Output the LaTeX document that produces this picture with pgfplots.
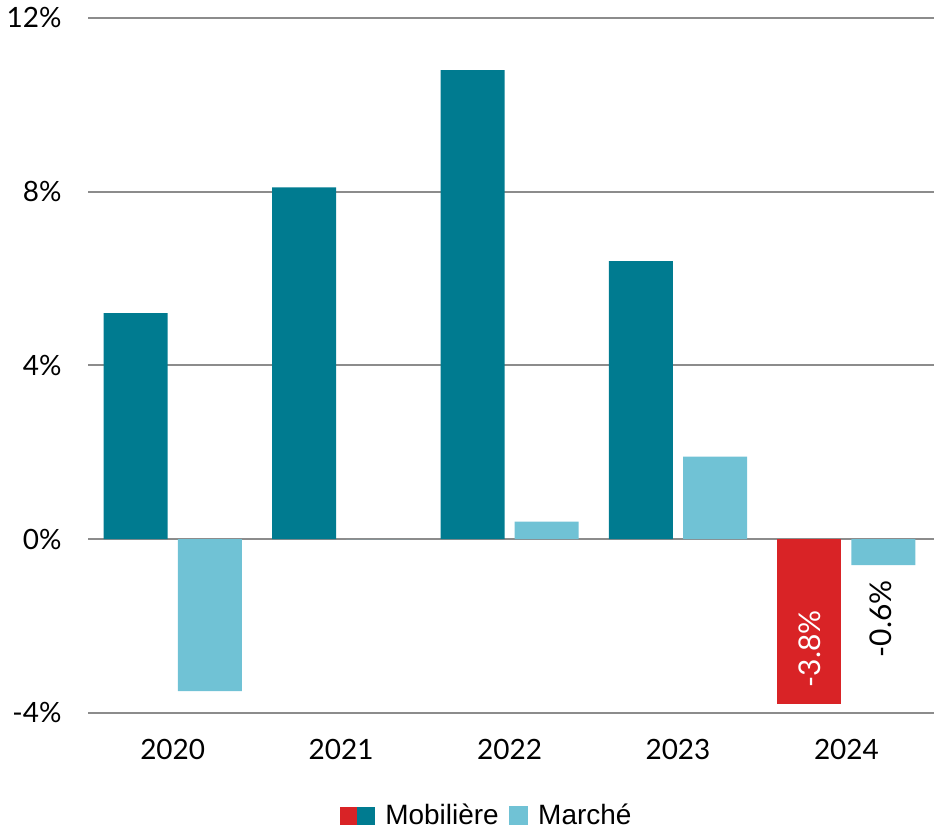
\documentclass[border=0pt]{standalone}
\usepackage{pgfplots}
\pgfplotsset{compat=1.18}
\usepackage{fontspec}
\setmainfont{Lato}
\newfontfamily\legfont{Liberation Sans}
\definecolor{mob}{HTML}{007B90}
\definecolor{mar}{HTML}{70C2D5}
\definecolor{neg}{HTML}{D92326}
\definecolor{gridc}{HTML}{8C8C8C}
\begin{document}
\begin{tikzpicture}
  \begin{axis}[
    width=423.5pt, height=348pt, scale only axis,
    xmin=-0.5, xmax=4.52, ymin=-4, ymax=12,
    ytick={-4,0,4,8,12},
    yticklabels={-4\%,0\%,4\%,8\%,12\%},
    xtick={0,1,2,3,4},
    xticklabels={2020,2021,2022,2023,2024},
    axis line style={draw=none},
    major tick length=0pt,
    ymajorgrids=true,
    grid style={gridc, line width=1pt},
    tick label style={font=\rmfamily\fontsize{14}{16}\selectfont},
    yticklabel style={anchor=east, xshift=-10pt},
    xticklabel style={yshift=-10pt},
    clip=false,
    legend style={at={(0.4725,-0.148)}, anchor=center, draw=none,
      font=\legfont\fontsize{14}{16}\selectfont, column sep=3pt,
      nodes={inner xsep=2.2pt}},
    legend columns=2,
  ]
    % Mobiliere 2020-2023
    \addplot[ybar, bar width=0.38, bar shift=-0.22, fill=mob, draw=none, forget plot]
      coordinates {(0,5.2) (1,8.1) (2,10.8) (3,6.4)};
    % Mobiliere 2024 (negative, red)
    \addplot[ybar, bar width=0.38, bar shift=-0.22, fill=neg, draw=none, forget plot]
      coordinates {(4,-3.8)};
    % Marche
    \addplot[ybar, bar width=0.38, bar shift=0.22, fill=mar, draw=none, forget plot]
      coordinates {(0,-3.5) (1,0) (2,0.4) (3,1.9) (4,-0.6)};

    % value labels for 2024
    \node[white, rotate=90, font=\rmfamily\fontsize{15}{16}\selectfont] at (axis cs:3.78,-2.53) {-3.8\%};
    \node[black, rotate=90, font=\rmfamily\fontsize{15}{16}\selectfont] at (axis cs:4.205,-1.84) {-0.6\%};

    \addlegendimage{legend image code/.code={
      \fill[neg] (0pt,-4.25pt) rectangle (8.5pt,4.25pt);
      \fill[mob] (8.5pt,-4.25pt) rectangle (17pt,4.25pt);}}
    \addlegendentry{Mobilière}
    \addlegendimage{legend image code/.code={
      \fill[mar] (0pt,-4.5pt) rectangle (9pt,4.5pt);}}
    \addlegendentry{Marché}

    \path (rel axis cs:0,0) ++(-44pt,-60pt) rectangle ++(467.5pt,417pt);
  \end{axis}
\end{tikzpicture}
\end{document}
